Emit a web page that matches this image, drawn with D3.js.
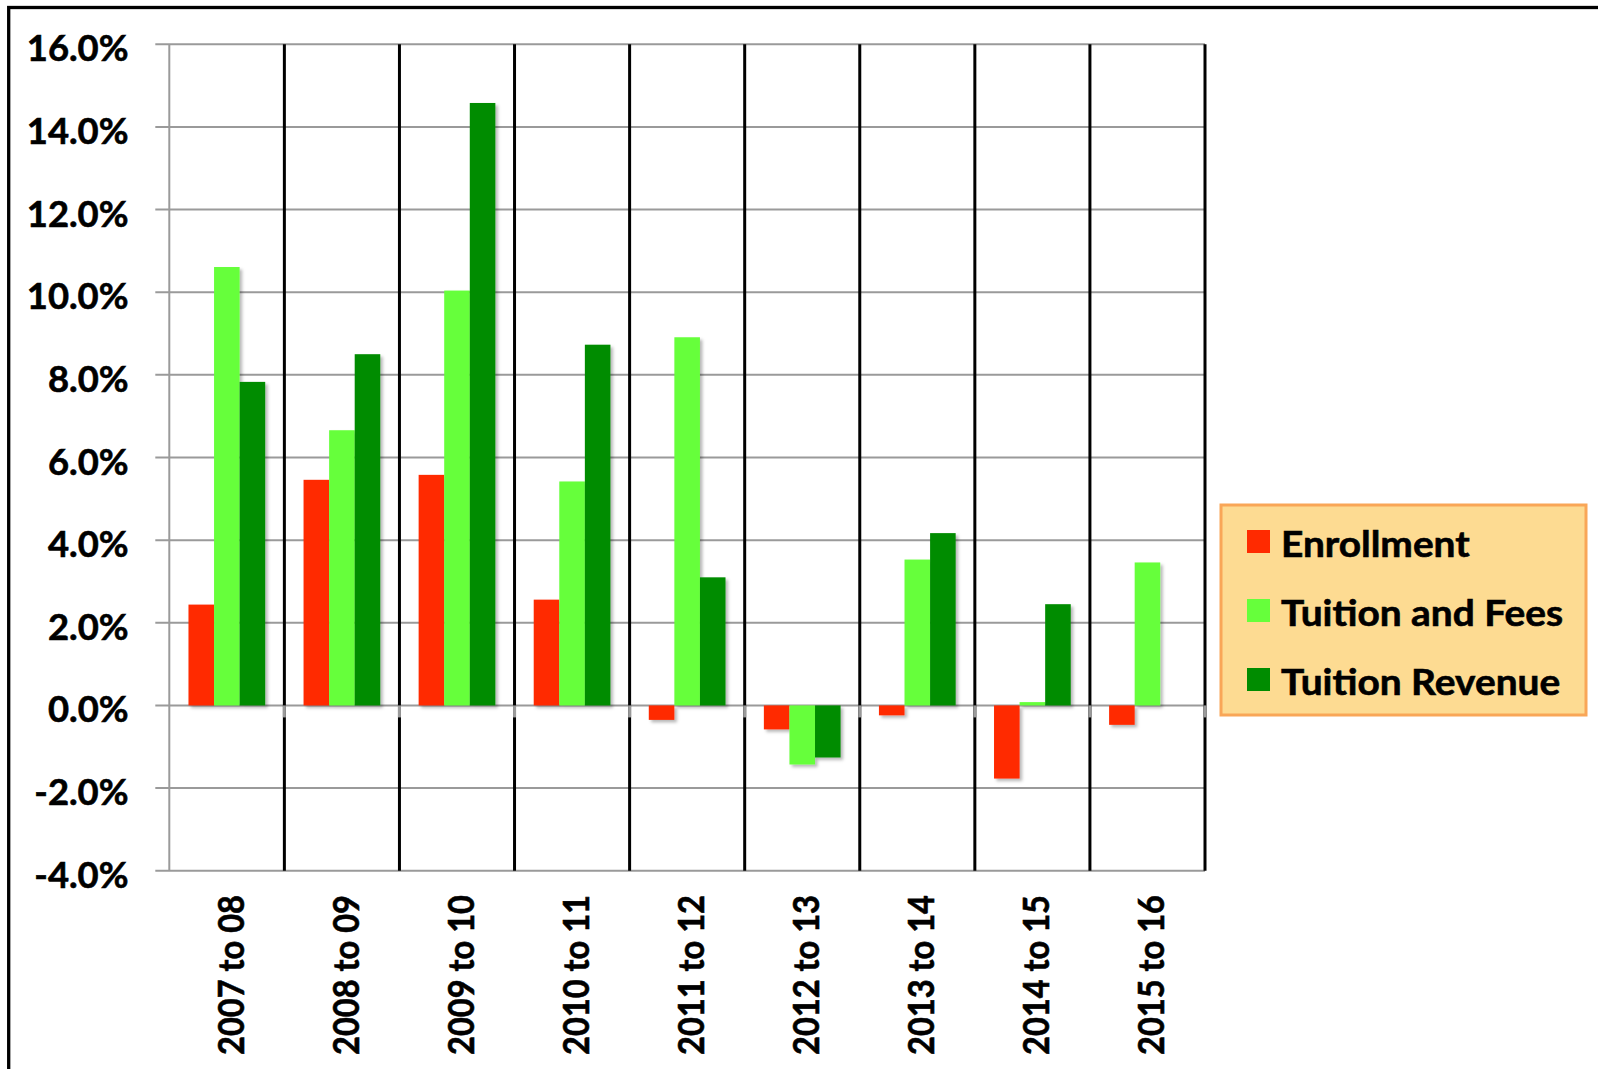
<!DOCTYPE html>
<html>
<head>
<meta charset="utf-8">
<script src="https://cdn.jsdelivr.net/npm/d3@7"></script>
<style>
  html, body { margin: 0; padding: 0; background: #fff; }
  svg { display: block; }
  text { font-family: Lato, "Noto Sans", sans-serif; font-weight: 700; fill: #000; stroke: #000; stroke-width: 0.6px; }
</style>
</head>
<body>
<svg id="chart" width="1598" height="1069"></svg>
<script>
// Year-over-year percentage change
const categories = ["2007 to 08", "2008 to 09", "2009 to 10", "2010 to 11", "2011 to 12",
                    "2012 to 13", "2013 to 14", "2014 to 15", "2015 to 16"];
const enrollment     = [2.44, 5.46, 5.58, 2.56, -0.35, -0.58, -0.24, -1.77, -0.47];
const tuitionFees    = [10.61, 6.66, 10.04, 5.42, 8.91, -1.43, 3.53, 0.08, 3.46];
const tuitionRevenue = [7.83, 8.50, 14.58, 8.73, 3.10, -1.26, 4.17, 2.45, null];
const seriesNames  = ["Enrollment", "Tuition and Fees", "Tuition Revenue"];
const seriesColors = ["#FF2A00", "#66FF3B", "#008C00"];
const yTicks = [-4, -2, 0, 2, 4, 6, 8, 10, 12, 14, 16];

const seriesValues = [enrollment, tuitionFees, tuitionRevenue];

const svg = d3.select("#chart");

// plot area
const plot = { left: 169.3, right: 1205, top: 44.3, bottom: 870.7 };

const x = d3.scaleBand().domain(categories).range([plot.left, plot.right]).paddingInner(0).paddingOuter(0);
const xs = d3.scaleBand().domain(seriesNames).range([0, x.bandwidth()]).paddingInner(0).paddingOuter(0.75);
const y = d3.scaleLinear().domain([yTicks[0], yTicks[yTicks.length - 1]]).range([plot.bottom, plot.top]);

// soft shadow under the bars
const defs = svg.append("defs");
const f = defs.append("filter").attr("id", "barShadow").attr("x", "-20%").attr("y", "-20%").attr("width", "150%").attr("height", "150%");
f.append("feDropShadow").attr("dx", 2.5).attr("dy", 2.5).attr("stdDeviation", 1.8)
  .attr("flood-color", "#000").attr("flood-opacity", 0.28);

// outer frame
svg.append("rect").attr("x", 8.7).attr("y", 7.5).attr("width", 1700).attr("height", 1200)
  .attr("fill", "none").attr("stroke", "#000").attr("stroke-width", 3.3);

// horizontal gridlines, extended left as tick marks
svg.append("g").selectAll("line").data(yTicks).join("line")
  .attr("x1", plot.left - 14).attr("x2", plot.right)
  .attr("y1", d => y(d)).attr("y2", d => y(d))
  .attr("stroke", "#9a9a9a").attr("stroke-width", 2);

// left value axis line
svg.append("line").attr("x1", plot.left).attr("x2", plot.left)
  .attr("y1", plot.top).attr("y2", plot.bottom)
  .attr("stroke", "#9a9a9a").attr("stroke-width", 2);

// black category separators
const seps = categories.map(c => x(c) + x.bandwidth());
svg.append("g").selectAll("line").data(seps).join("line")
  .attr("x1", d => d).attr("x2", d => d)
  .attr("y1", plot.top).attr("y2", plot.bottom)
  .attr("stroke", "#000").attr("stroke-width", 3);

// category tick marks on the zero line
svg.append("g").selectAll("line").data(seps).join("line")
  .attr("x1", d => d).attr("x2", d => d)
  .attr("y1", y(0)).attr("y2", y(0) + 12)
  .attr("stroke", "#9a9a9a").attr("stroke-width", 3);

// bars
const bars = [];
categories.forEach((c, i) => {
  seriesNames.forEach((s, j) => {
    const v = seriesValues[j][i];
    if (v === null || v === undefined) return;
    bars.push({ c, s, v, color: seriesColors[j] });
  });
});
svg.append("g").attr("filter", "url(#barShadow)").selectAll("rect").data(bars).join("rect")
  .attr("x", d => x(d.c) + xs(d.s))
  .attr("width", xs.bandwidth())
  .attr("y", d => y(Math.max(0, d.v)))
  .attr("height", d => Math.abs(y(d.v) - y(0)))
  .attr("fill", d => d.color);

// value axis labels
const yAxis = d3.axisLeft(y).tickValues(yTicks).tickFormat(d => d.toFixed(1) + "%")
  .tickSize(0).tickPadding(plot.left - 128.5);
const yg = svg.append("g").attr("transform", `translate(${plot.left},0)`).call(yAxis);
yg.select(".domain").remove();
yg.selectAll("text").attr("dy", null).attr("y", 16.5)
  .style("font-family", "Lato, 'Noto Sans', sans-serif").style("font-weight", 700)
  .attr("font-size", 36).attr("fill", "#000");

// category labels, rotated
const xl = svg.append("g").selectAll("text").data(categories).join("text")
  .attr("transform", d => `translate(${x(d) + x.bandwidth() / 2 + 17},895) rotate(-90)`)
  .attr("text-anchor", "end")
  .attr("font-size", 36)
  .text(d => d);

// legend
const lg = svg.append("g");
lg.append("rect").attr("x", 1221).attr("y", 505).attr("width", 365).attr("height", 210)
  .attr("fill", "#FDDB92").attr("stroke", "#F9A657").attr("stroke-width", 3);
const items = lg.selectAll("g.item").data(seriesNames).join("g").attr("class", "item")
  .attr("transform", (d, i) => `translate(0,${i * 69})`);
items.append("rect").attr("x", 1247).attr("y", 530).attr("width", 23).attr("height", 23)
  .attr("fill", (d, i) => seriesColors[i]);
const lt = items.append("text").attr("x", 1281).attr("y", 556.5).attr("font-size", 36).text(d => d);

// narrow the substitute face toward the original label widths
function fit(sel, refText, refWidth) {
  let ref = null;
  sel.each(function () { if (this.textContent === refText) ref = this.getComputedTextLength(); });
  if (!ref) return;
  const k = refWidth / ref;
  sel.each(function () {
    const w = this.getComputedTextLength();
    d3.select(this).attr("textLength", w * k).attr("lengthAdjust", "spacingAndGlyphs");
  });
}
fit(yg.selectAll("text"), "16.0%", 101.7);
fit(xl, "2007 to 08", 160);
fit(lt, "Tuition and Fees", 282);
</script>
</body>
</html>
